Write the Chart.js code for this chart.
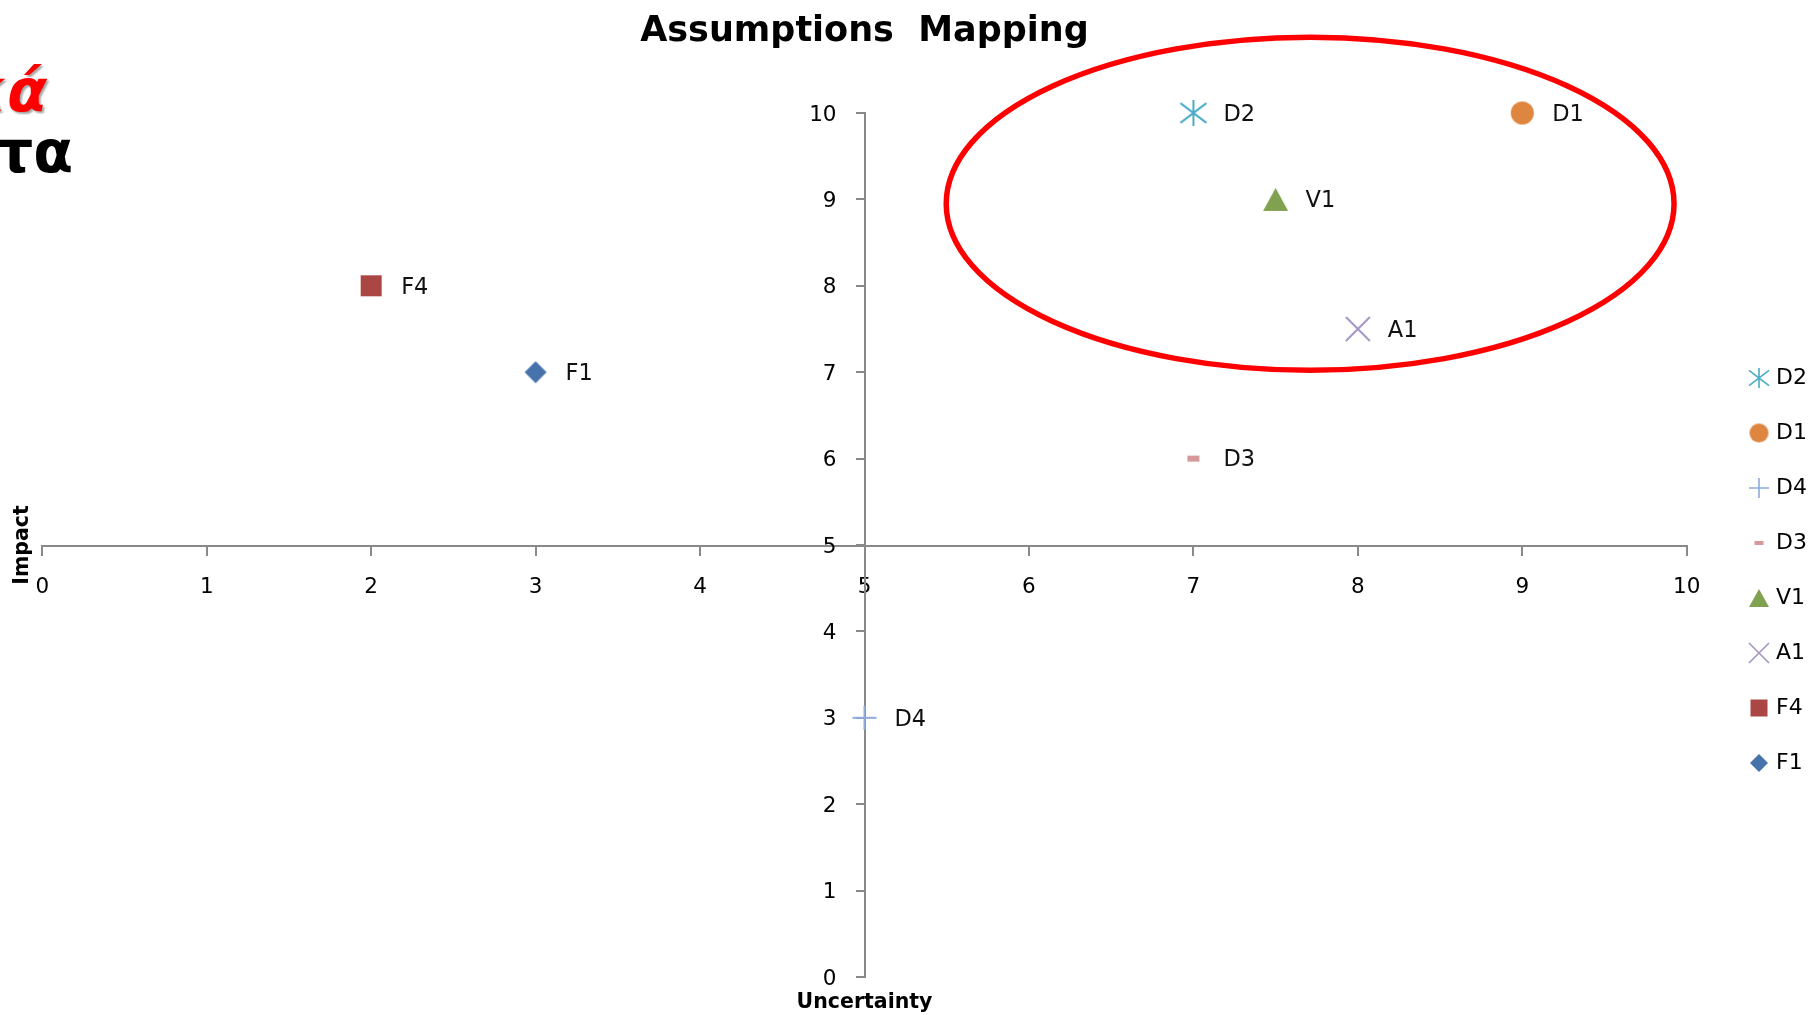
<!DOCTYPE html>
<html>
<head>
<meta charset="utf-8">
<title>Assumptions Mapping</title>
<script src="https://cdn.jsdelivr.net/npm/chart.js@4.4.1/dist/chart.umd.min.js"></script>
<style>
  html, body { margin: 0; padding: 0; background: #ffffff; overflow: hidden; }
  #wrap { position: relative; width: 1814px; height: 1015px; background: #ffffff; }
  #wrap canvas { position: absolute; left: 0; top: 0; }
  .slide-text {
    position: absolute;
    left: -300px;
    text-align: right;
    white-space: nowrap;
    font-family: "DejaVu Sans", sans-serif;
    font-weight: bold;
    font-size: 58px;
    line-height: 58px;
  }
  #line1 { top: 62px; width: 347px; color: #ff0000; font-style: italic;
           text-shadow: 2px 2px 2px rgba(0, 0, 0, 0.35); }
  #line2 { top: 123px; width: 373px; color: #000000; }
</style>
</head>
<body>
<div id="wrap">
  <canvas id="chart" width="1814" height="1015"></canvas>
  <div id="line1" class="slide-text">κά</div>
  <div id="line2" class="slide-text">τα</div>
</div>
<script>
// ---- data -------------------------------------------------------------
const seriesNames = ['D2', 'D1', 'D4', 'D3', 'V1', 'A1', 'F4', 'F1'];
const uncertainty = [7, 9, 5, 7, 7.5, 8, 2, 3];
const impact      = [10, 10, 3, 6, 9, 7.5, 8, 7];
const axisTicks   = [0, 1, 2, 3, 4, 5, 6, 7, 8, 9, 10];

// ---- marker styles (chart size / legend size) ---------------------------
const markerShapes = ['asterisk', 'circle', 'plus', 'dash', 'triangle', 'cross', 'square', 'diamond'];
const markerColors = ['#4BACC6', '#DE853F', '#8EAADB', '#D6989A', '#80A250', '#A394C5', '#AA4744', '#4673AB'];
const chartSizes  = [[26, 26], [23, 23], [24, 24], [12, 6], [25, 23], [24, 24], [21, 21], [22, 22]];
const legendSizes = [[20, 20], [19, 19], [20, 20], [9, 4], [20, 18], [20, 20], [17, 17], [18, 18]];

// highlight ring around the high-impact / high-uncertainty group (data units)
const focusRing = { cx: 7.71, cy: 8.95, rx: 2.213, ry: 1.928 };

const FONT = 'DejaVu Sans';
const AXIS_GREY = '#898989';

function markerCanvas(shape, w, h, color, lw) {
  const pad = 2;
  const c = document.createElement('canvas');
  c.width = w + pad * 2;
  c.height = h + pad * 2;
  const g = c.getContext('2d');
  g.fillStyle = color;
  g.strokeStyle = color;
  g.lineWidth = lw;
  const l = pad, t = pad, r = pad + w, b = pad + h, cx = pad + w / 2, cy = pad + h / 2;
  g.beginPath();
  switch (shape) {
    case 'asterisk':
      g.moveTo(cx, t); g.lineTo(cx, b);
      g.moveTo(l, t + h * 0.12); g.lineTo(r, b - h * 0.12);
      g.moveTo(r, t + h * 0.12); g.lineTo(l, b - h * 0.12);
      g.stroke();
      break;
    case 'circle':
      g.arc(cx, cy, w / 2, 0, Math.PI * 2);
      g.fill();
      break;
    case 'plus':
      g.moveTo(cx, t); g.lineTo(cx, b);
      g.moveTo(l, cy); g.lineTo(r, cy);
      g.stroke();
      break;
    case 'dash':
      g.fillRect(l, t, w, h);
      break;
    case 'triangle':
      g.moveTo(cx, t); g.lineTo(r, b); g.lineTo(l, b); g.closePath();
      g.fill();
      break;
    case 'cross':
      g.moveTo(l, t); g.lineTo(r, b);
      g.moveTo(r, t); g.lineTo(l, b);
      g.stroke();
      break;
    case 'square':
      g.fillRect(l, t, w, h);
      break;
    case 'diamond':
      g.moveTo(cx, t); g.lineTo(r, cy); g.lineTo(cx, b); g.lineTo(l, cy); g.closePath();
      g.fill();
      break;
  }
  return c;
}

const chartMarkers = markerShapes.map((s, i) =>
  markerCanvas(s, chartSizes[i][0], chartSizes[i][1], markerColors[i], 2));
const legendMarkers = markerShapes.map((s, i) =>
  markerCanvas(s, legendSizes[i][0], legendSizes[i][1], markerColors[i], 1.6));

// ---- plugins ------------------------------------------------------------
// name tag to the right of every point
const pointNames = {
  id: 'pointNames',
  afterDatasetsDraw(chart) {
    const ctx = chart.ctx;
    ctx.save();
    ctx.font = '22.5px "' + FONT + '"';
    ctx.fillStyle = '#111111';
    ctx.textAlign = 'left';
    ctx.textBaseline = 'middle';
    chart.data.datasets.forEach((ds, i) => {
      chart.getDatasetMeta(i).data.forEach(el => {
        ctx.fillText(ds.label, el.x + 30, el.y + 2);
      });
    });
    ctx.restore();
  }
};

// red ring drawn in data coordinates
const ringPlugin = {
  id: 'focusRing',
  afterDatasetsDraw(chart) {
    const xs = chart.scales.x, ys = chart.scales.y;
    const cx = xs.getPixelForValue(focusRing.cx);
    const cy = ys.getPixelForValue(focusRing.cy);
    const rx = Math.abs(xs.getPixelForValue(focusRing.cx + focusRing.rx) - cx);
    const ry = Math.abs(ys.getPixelForValue(focusRing.cy + focusRing.ry) - cy);
    const ctx = chart.ctx;
    ctx.save();
    ctx.beginPath();
    ctx.ellipse(cx, cy, rx, ry, 0, 0, Math.PI * 2);
    ctx.lineWidth = 5.5;
    ctx.strokeStyle = '#ff0000';
    ctx.stroke();
    ctx.restore();
  }
};

// legend sits in the right margin, beside the plot
const legendPlacement = {
  id: 'legendPlacement',
  afterLayout(chart) {
    const lg = chart.legend;
    if (!lg) return;
    const pad = lg.options.labels.padding;
    const left = 1759 - pad - 6;
    const top = 378 - pad - 11;
    lg.left = left; lg.right = left + lg.width;
    lg.top = top; lg.bottom = top + lg.height;
  }
};

// ---- chart --------------------------------------------------------------
const datasets = seriesNames.map((name, i) => ({
  label: name,
  data: [{ x: uncertainty[i], y: impact[i] }],
  pointStyle: chartMarkers[i],
  pointRadius: 13,
  pointHoverRadius: 13,
  backgroundColor: markerColors[i],
  borderColor: markerColors[i],
  clip: false
}));

const tickFont = { family: FONT, size: 21.5 };
const axisTitleFont = { family: FONT, size: 20.5, weight: 'bold', lineHeight: 1.2 };

new Chart(document.getElementById('chart'), {
  type: 'scatter',
  data: { datasets },
  plugins: [pointNames, ringPlugin, legendPlacement],
  options: {
    responsive: false,
    animation: false,
    devicePixelRatio: 1,
    layout: { padding: { left: 0, top: 0, right: 127.3, bottom: 0 } },
    plugins: {
      tooltip: { enabled: false },
      title: {
        display: true,
        text: 'Assumptions  Mapping',
        fullSize: false,
        color: '#000000',
        font: { family: FONT, size: 35, weight: 'bold', lineHeight: 1.2 },
        padding: { top: 11, bottom: 60 }
      },
      legend: {
        display: true,
        position: 'chartArea',
        align: 'start',
        labels: {
          usePointStyle: true,
          boxWidth: 12,
          padding: 33,
          color: '#000000',
          font: { family: FONT, size: 22 },
          generateLabels(chart) {
            const items = Chart.defaults.plugins.legend.labels.generateLabels(chart);
            items.forEach(it => { it.pointStyle = legendMarkers[it.datasetIndex]; });
            return items;
          }
        }
      }
    },
    scales: {
      x: {
        type: 'linear',
        position: 'center',
        min: 0, max: 10,
        afterBuildTicks: s => { s.ticks = axisTicks.map(v => ({ value: v })); },
        afterFit: s => { s.height = 0; },
        ticks: { font: tickFont, color: '#000000', padding: 21 },
        grid: { display: true, drawOnChartArea: false, drawTicks: true, tickLength: 9, color: AXIS_GREY, lineWidth: 2 },
        border: { display: true, color: AXIS_GREY, width: 2 }
      },
      y: {
        type: 'linear',
        position: 'center',
        min: 0, max: 10,
        afterBuildTicks: s => { s.ticks = axisTicks.map(v => ({ value: v })); },
        afterFit: s => { s.width = 0; },
        ticks: { font: tickFont, color: '#000000', padding: 20, labelOffset: 2 },
        grid: { display: true, drawOnChartArea: false, drawTicks: true, tickLength: 8, color: AXIS_GREY, lineWidth: 2 },
        border: { display: true, color: AXIS_GREY, width: 2 }
      },
      xTitle: {
        type: 'linear',
        axis: 'x',
        position: 'bottom',
        ticks: { display: false },
        grid: { display: false, drawTicks: false },
        border: { display: false },
        title: { display: true, text: 'Uncertainty', color: '#000000', font: axisTitleFont, padding: { top: 13.4, bottom: 0 } }
      },
      yTitle: {
        type: 'linear',
        axis: 'y',
        position: 'left',
        ticks: { display: false },
        grid: { display: false, drawTicks: false },
        border: { display: false },
        title: { display: true, text: 'Impact', color: '#000000', font: axisTitleFont, padding: { top: 10.7, bottom: 7 } }
      }
    }
  }
});
</script>
</body>
</html>
